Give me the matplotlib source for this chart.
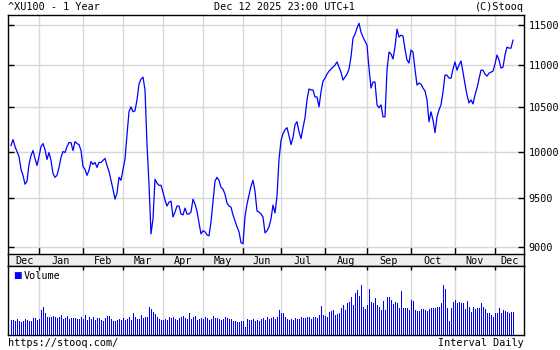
import numpy as np
import matplotlib
matplotlib.use("Agg")
import matplotlib.pyplot as plt
from matplotlib.ticker import NullLocator

# daily closes, ^XU100, Dec 12 2024 .. Dec 12 2025
close = [
    10067, 10134, 10056, 10001, 9946, 9805, 9741, 9646, 9678, 9859, 9957, 10012, 9925, 9848,
    9946, 10056, 10089, 10023, 9914, 9990, 9903, 9762, 9720, 9741, 9827, 9935, 10001, 9990,
    10056, 10100, 10100, 10012, 10111, 10089, 10078, 10012,
    9838, 9805, 9741, 9795, 9892, 9859, 9881, 9827, 9881, 9881, 9903, 9925, 9848, 9784,
    9688, 9593, 9488, 9551, 9720, 9688,
    9805, 9914, 10189, 10450, 10507, 10450, 10461, 10588, 10775, 10834, 10858, 10705, 10078,
    9646, 9131, 9283, 9699, 9657, 9635, 9635,
    9561, 9478, 9416, 9457, 9467, 9303, 9354, 9416, 9416, 9334, 9324, 9395, 9334, 9334,
    9354, 9488, 9436, 9364, 9242, 9131,
    9162, 9152, 9121, 9111, 9252, 9457, 9678, 9720, 9688, 9614, 9593, 9540, 9447, 9416,
    9405, 9324, 9262, 9202, 9152, 9042,
    9032, 9303, 9436, 9530, 9625, 9688, 9572, 9364, 9354, 9334, 9303, 9141, 9162, 9202,
    9283, 9426, 9344, 9519, 9914,
    10123, 10200, 10245, 10268, 10178, 10078, 10156, 10302, 10336, 10223, 10145, 10268,
    10381, 10588, 10717, 10705, 10705, 10623, 10623, 10507, 10682, 10811,
    10846, 10894, 10930, 10954, 10979, 11003, 11042, 10979, 10918, 10823, 10858, 10894,
    10954, 11103, 11336, 11386, 11462, 11525, 11412, 11349, 11299,
    11249, 10967, 10728, 10799, 10799, 10530, 10496, 10530, 10392, 10392, 10942, 11164,
    11139, 11078, 11225, 11450, 11349, 11374, 11361, 11200, 11066, 11029,
    11188, 11164, 10954, 10763, 10787, 10775, 10728, 10693, 10588, 10336, 10450, 10358,
    10211, 10392, 10473, 10530, 10682, 10882, 10882, 10846, 10846, 10954,
    11042, 10942, 11003, 11054, 10918, 10775, 10646, 10553, 10588, 10542, 10646, 10728,
    10834, 10942, 10942, 10894, 10870, 10906, 10918, 10930,
    11017, 11127, 11066, 10967, 10979, 11127, 11225, 11212, 11212, 11311,
]

# daily volume, relative units
volume = [
    15, 15, 14, 16, 14, 13, 14, 16, 15, 14, 14, 17, 17, 15,
    16, 25, 28, 22, 18, 18, 18, 19, 18, 17, 18, 20, 16, 17, 19, 16, 17, 17, 17, 16, 16, 18,
    16, 20, 15, 18, 16, 18, 15, 17, 17, 15, 14, 17, 19, 19, 16, 14, 14, 15, 16, 15,
    17, 15, 16, 18, 15, 22, 18, 16, 16, 20, 17, 18, 18, 28, 26, 23, 21, 18, 16, 15,
    15, 16, 15, 18, 17, 18, 16, 15, 17, 18, 19, 17, 16, 22, 16, 18, 19, 15, 16, 17,
    16, 18, 17, 15, 16, 19, 17, 17, 16, 15, 16, 18, 17, 16, 16, 14, 14, 13, 13, 14,
    14, 8, 16, 15, 15, 16, 14, 15, 14, 16, 17, 15, 18, 16, 17, 18, 16, 18, 25,
    22, 22, 18, 16, 15, 16, 15, 17, 16, 16, 18, 17, 17, 18, 18, 16, 18, 18, 17, 20, 29, 20,
    19, 18, 23, 24, 25, 20, 21, 22, 27, 30, 25, 32, 33, 38, 30, 42, 45, 39, 50, 28, 26,
    30, 46, 33, 32, 37, 30, 28, 25, 34, 25, 38, 38, 35, 31, 33, 32, 27, 44, 27, 27, 27, 25,
    35, 34, 25, 24, 24, 26, 26, 25, 24, 26, 27, 27, 27, 28, 28, 32, 50, 46, 27, 14, 27, 33,
    35, 32, 33, 32, 32, 26, 34, 28, 23, 28, 26, 27, 27, 32, 28, 26, 22, 22, 20, 18,
    22, 22, 27, 22, 25, 24, 23, 22, 23, 23,
]

month_names = ['Dec', 'Jan', 'Feb', 'Mar', 'Apr', 'May', 'Jun',
               'Jul', 'Aug', 'Sep', 'Oct', 'Nov', 'Dec']
month_start = [14, 36, 56, 76, 96, 116, 135, 157, 178, 200, 222, 242]  # first session index
price_ticks = [9000, 9500, 10000, 10500, 11000, 11500]

plt.rcParams['font.family'] = 'DejaVu Sans Mono'
plt.rcParams['font.size'] = 7.3

W, H = 560, 350
GRID = '#d8d8d8'
BLUE = '#0000ff'


def box(left, top, w, h):
    # pixel rectangle -> figure fraction
    return [left / W, 1 - (top + h) / H, w / W, h / H]


fig = plt.figure(figsize=(W / 100, H / 100), dpi=100)
ax = fig.add_axes(box(8, 15, 516, 239))
band = fig.add_axes(box(8, 254, 516, 12), sharex=ax)
axv = fig.add_axes(box(8, 266, 516, 69), sharex=ax)

x = np.arange(len(close))
xmax = len(close) + 4.5

# price
ax.plot(x, close, color=BLUE, lw=0.9)
ax.set_yscale('log')
ax.set_ylim(8930, 11630)
ax.set_yticks(price_ticks, labels=[str(t) for t in price_ticks])
ax.yaxis.set_minor_locator(NullLocator())
ax.set_xticks(month_start)
ax.set_xlim(-1.5, xmax)
ax.grid(True, color=GRID, lw=1)
ax.set_axisbelow(True)
ax.tick_params(axis='y', direction='in', length=4, width=1, left=True, right=True,
               labelleft=False, labelright=True, pad=3.5)
ax.tick_params(axis='x', direction='in', length=5, width=1, labelbottom=False)
ax.spines['bottom'].set_visible(False)
for s in ax.spines.values():
    s.set_linewidth(1)

# month band
band.set_facecolor('#eeeeee')
band.set_yticks([])
band.tick_params(axis='x', length=0, labelbottom=False)
bounds = [0] + month_start + [xmax]
for i, name in enumerate(month_names):
    band.text((bounds[i] + bounds[i + 1]) / 2, 0.4, name, ha='center', va='center',
              transform=band.get_xaxis_transform())
for s in band.spines.values():
    s.set_linewidth(1)

# volume, one-pixel bars
axv.bar(x + 0.02, volume, width=0.45, align='edge', color=BLUE, lw=0, antialiased=False)
axv.set_ylim(0, max(volume) * 1.38)
axv.set_yticks([])
axv.grid(True, axis='x', color=GRID, lw=1)
axv.set_axisbelow(True)
axv.tick_params(axis='x', direction='in', length=3, width=1, top=True, bottom=False,
                labelbottom=False)
for s in axv.spines.values():
    s.set_linewidth(1)
axv.text(0.009, 0.86, '\u25a0', color=BLUE, transform=axv.transAxes, va='center',
         family='DejaVu Sans', fontsize=6.5)
axv.text(0.03, 0.86, 'Volume', transform=axv.transAxes, va='center')

# header / footer
fig.text(8 / W, 1 - 7 / H, '^XU100 - 1 Year', ha='left', va='center')
fig.text(284 / W, 1 - 7 / H, 'Dec 12 2025 23:00 UTC+1', ha='center', va='center')
fig.text(524 / W, 1 - 7 / H, '(C)Stooq', ha='right', va='center')
fig.text(8 / W, 1 - 343 / H, 'https://stooq.com/', ha='left', va='center')
fig.text(524 / W, 1 - 343 / H, 'Interval Daily', ha='right', va='center')

fig.savefig('out.png', dpi=100, facecolor='white')
